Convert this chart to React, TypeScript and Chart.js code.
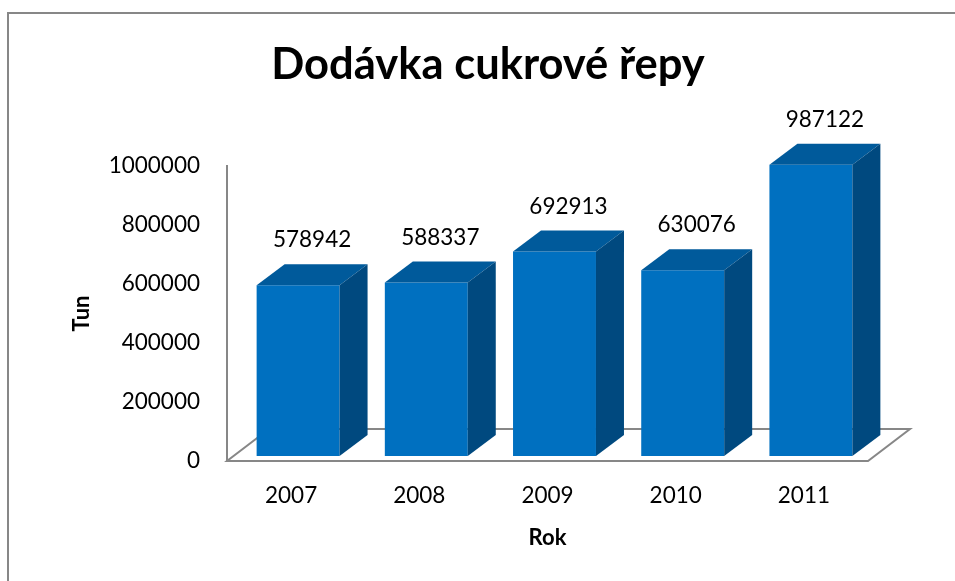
import React, { useEffect, useRef } from "react";
import { Chart, registerables } from "chart.js";

Chart.register(...registerables);

// ---- data ----
const TITLE = "Dodávka cukrové řepy";
const X_TITLE = "Rok";
const Y_TITLE = "Tun";
const categories = ["2007", "2008", "2009", "2010", "2011"];
const values = [578942, 588337, 692913, 630076, 987122];
const yTicks = [0, 200000, 400000, 600000, 800000, 1000000];

// ---- style ----
const FRONT = "#0070C0";
const TOP = "#005A9B";
const SIDE = "#00497F";
const GRAY = "#878787";
const FONT = "Lato";
const DEPTH_X = 28;
const DEPTH_Y = 21;
const FLOOR_X = 42;
const FLOOR_Y = 32;
const SHIFT_X = 7;
const SHIFT_Y = 5;

const threeD = {
  id: "threeD",
  beforeDraw(chart: any) {
    const ctx = chart.ctx;
    ctx.save();
    ctx.fillStyle = "#ffffff";
    ctx.fillRect(0, 0, chart.width, chart.height);
    ctx.strokeStyle = GRAY;
    ctx.lineWidth = 2;
    ctx.beginPath();
    ctx.moveTo(8, chart.height + 5);
    ctx.lineTo(8, 13);
    ctx.lineTo(chart.width + 5, 13);
    ctx.stroke();
    ctx.font = `bold 43.5px ${FONT}`;
    ctx.fillStyle = "#000";
    ctx.textAlign = "center";
    ctx.textBaseline = "alphabetic";
    ctx.fillText(TITLE, 488, 79);
    ctx.restore();
  },
  beforeDatasetsDraw(chart: any) {
    const { ctx, chartArea: a } = chart;
    ctx.save();
    ctx.strokeStyle = GRAY;
    ctx.lineWidth = 2;
    ctx.beginPath();
    ctx.moveTo(a.left, a.bottom);
    ctx.lineTo(a.right, a.bottom);
    ctx.lineTo(a.right + FLOOR_X, a.bottom - FLOOR_Y);
    ctx.lineTo(a.left + FLOOR_X, a.bottom - FLOOR_Y);
    ctx.closePath();
    ctx.stroke();
    ctx.restore();
    ctx.save();
    ctx.translate(SHIFT_X, -SHIFT_Y);
  },
  afterDatasetsDraw(chart: any) {
    const ctx = chart.ctx;
    const meta = chart.getDatasetMeta(0);
    meta.data.forEach((bar: any, i: number) => {
      const { x, y, width, base } = bar.getProps(["x", "y", "width", "base"], true);
      const l = x - width / 2;
      const r = x + width / 2;
      ctx.fillStyle = TOP;
      ctx.beginPath();
      ctx.moveTo(l, y);
      ctx.lineTo(l + DEPTH_X, y - DEPTH_Y);
      ctx.lineTo(r + DEPTH_X, y - DEPTH_Y);
      ctx.lineTo(r, y);
      ctx.closePath();
      ctx.fill();
      ctx.fillStyle = SIDE;
      ctx.beginPath();
      ctx.moveTo(r, y);
      ctx.lineTo(r + DEPTH_X, y - DEPTH_Y);
      ctx.lineTo(r + DEPTH_X, base - DEPTH_Y);
      ctx.lineTo(r, base);
      ctx.closePath();
      ctx.fill();
      ctx.fillStyle = "#000";
      ctx.font = `22.5px ${FONT}`;
      ctx.textAlign = "center";
      ctx.textBaseline = "middle";
      ctx.fillText(String(values[i]), x + DEPTH_X / 2, y - DEPTH_Y - 24);
    });
    ctx.restore();
  },
};

export default function App() {
  const ref = useRef<HTMLCanvasElement | null>(null);
  useEffect(() => {
    if (!ref.current) return;
    const chart = new Chart(ref.current, {
      type: "bar",
      data: {
        labels: categories,
        datasets: [
          {
            data: values,
            backgroundColor: FRONT,
            borderWidth: 0,
            categoryPercentage: 1,
            barPercentage: 0.647,
            clip: false as any,
          },
        ],
      },
      options: {
        responsive: false,
        animation: false,
        devicePixelRatio: 1,
        layout: { padding: { left: 0, right: 87, top: 166, bottom: 0 } },
        plugins: {
          legend: { display: false },
          tooltip: { enabled: false },
          title: { display: false },
        },
        scales: {
          x: {
            offset: true,
            ticks: { font: { family: FONT, size: 22.5 }, color: "#000", padding: 21 },
            grid: { display: false, drawTicks: false },
            border: { display: false },
            title: {
              display: true,
              text: X_TITLE,
              font: { family: FONT, size: 22, weight: "bold" },
              color: "#000",
              padding: { bottom: 30 },
            },
            afterFit: (axis: any) => {
              axis.height = 120;
            },
          },
          y: {
            min: 0,
            max: 1000000,
            afterBuildTicks: (axis: any) => {
              axis.ticks = yTicks.map((v) => ({ value: v }));
            },
            ticks: {
              font: { family: FONT, size: 22.5 },
              color: "#000",
              padding: 27,
              callback: (v: any) => String(v),
            },
            grid: { display: false, drawTicks: false },
            border: { display: true, color: GRAY, width: 2 },
            title: {
              display: true,
              text: Y_TITLE,
              font: { family: FONT, size: 22, weight: "bold" },
              color: "#000",
              padding: { top: 69 },
            },
            afterFit: (axis: any) => {
              axis.width = 227;
            },
          },
        },
      },
      plugins: [threeD],
    });
    return () => chart.destroy();
  }, []);
  return (
    <div style={{ position: "absolute", left: 0, top: 0, width: 955, height: 581 }}>
      <canvas ref={ref} width={955} height={581} />
    </div>
  );
}
